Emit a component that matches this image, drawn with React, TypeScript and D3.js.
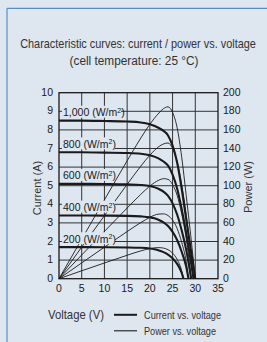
import React, { useLayoutEffect, useRef, useState } from "react";
import * as d3 from "d3";

const titleLines = ["Characteristic curves: current / power vs. voltage", "(cell temperature: 25 °C)"];
const xTicks = [0, 5, 10, 15, 20, 25, 30, 35];
const currentTicks = [0, 1, 2, 3, 4, 5, 6, 7, 8, 9, 10];
const powerTicks = [0, 20, 40, 60, 80, 100, 120, 140, 160, 180, 200];

const irradianceLabels = ["1,000", "800", "600", "400", "200"];

const volt1000 = [0, 5, 10, 15, 18, 20, 22, 23, 24, 25, 26, 27, 28, 29, 30];
const curr1000 = [8.5, 8.5, 8.48, 8.45, 8.4, 8.3, 8.1, 7.95, 7.7, 7.15, 6.25, 4.85, 3.2, 1.6, 0];
const pow1000 = [0, 42.5, 84.8, 126.8, 151.2, 166, 178.2, 182.9, 184.8, 178.8, 162.5, 131, 89.6, 46.4, 0];

const volt800 = [0, 5, 10, 15, 18, 20, 22, 23, 24, 25, 26, 27, 28, 29, 29.6];
const curr800 = [6.8, 6.8, 6.78, 6.76, 6.72, 6.64, 6.46, 6.3, 6.08, 5.6, 4.85, 3.75, 2.45, 0.95, 0];
const pow800 = [0, 34, 67.8, 101.4, 121, 132.8, 142.1, 144.9, 145.9, 140, 126.1, 101.3, 68.6, 27.6, 0];

const volt600 = [0, 5, 10, 15, 18, 20, 22, 23, 24, 25, 26, 27, 28, 29.1];
const curr600 = [5.1, 5.1, 5.09, 5.07, 5.04, 4.98, 4.82, 4.68, 4.45, 4.05, 3.45, 2.6, 1.55, 0];
const pow600 = [0, 25.5, 50.9, 76, 90.7, 99.6, 106, 107.6, 106.8, 101.3, 89.7, 70.2, 43.4, 0];

const volt400 = [0, 5, 10, 15, 18, 20, 21, 22, 23, 24, 25, 26, 27, 28, 28.5];
const curr400 = [3.4, 3.4, 3.39, 3.38, 3.35, 3.3, 3.25, 3.16, 3.03, 2.83, 2.52, 2.08, 1.45, 0.65, 0];
const pow400 = [0, 17, 33.9, 50.7, 60.3, 66, 68.3, 69.5, 69.7, 67.9, 63, 54.1, 39.2, 18.2, 0];

const volt200 = [0, 5, 10, 15, 18, 20, 21, 22, 23, 24, 25, 26, 27, 27.4];
const curr200 = [1.7, 1.7, 1.69, 1.68, 1.66, 1.62, 1.58, 1.52, 1.43, 1.3, 1.1, 0.8, 0.32, 0];
const pow200 = [0, 8.5, 16.9, 25.2, 29.9, 32.4, 33.2, 33.4, 32.9, 31.2, 27.5, 20.8, 8.6, 0];

const series = [
  { label: irradianceLabels[0], v: volt1000, i: curr1000, p: pow1000 },
  { label: irradianceLabels[1], v: volt800, i: curr800, p: pow800 },
  { label: irradianceLabels[2], v: volt600, i: curr600, p: pow600 },
  { label: irradianceLabels[3], v: volt400, i: curr400, p: pow400 },
  { label: irradianceLabels[4], v: volt200, i: curr200, p: pow200 },
];

const BG = "#dee6f0";
const INK = "#1a1a1a";
const tickFont = "'Liberation Sans', Arial, sans-serif";

// Text squeezed horizontally to a target width (condensed look), left x0 or centred cx
function NarrowText(props: { x: number; y: number; width: number; size: number; anchor: "start" | "middle"; text: string }) {
  const ref = useRef<SVGTextElement>(null);
  const [sx, setSx] = useState(0.85);
  useLayoutEffect(() => {
    if (ref.current) {
      const w = ref.current.getComputedTextLength();
      if (w > 0) setSx(props.width / w);
    }
  }, [props.width, props.text]);
  return (
    <text ref={ref} transform={`translate(${props.x},${props.y}) scale(${sx},1)`} textAnchor={props.anchor}
      fontFamily={tickFont} fontSize={props.size} fill="#333">{props.text}</text>
  );
}

export default function App() {
  const W = 267, H = 342;
  const x = d3.scaleLinear().domain([0, 35]).range([59, 218]);
  const yI = d3.scaleLinear().domain([0, 10]).range([278.7, 92.7]);
  const yP = d3.scaleLinear().domain([0, 200]).range([278.7, 92.7]);

  const ivLine = (v: number[], i: number[]) =>
    d3.line<number>().x((_, k) => x(v[k])).y((d) => yI(d)).curve(d3.curveMonotoneX)(i) || "";
  const pvLine = (v: number[], p: number[]) =>
    d3.line<number>().x((_, k) => x(v[k])).y((d) => yP(d)).curve(d3.curveMonotoneX)(p) || "";

  return (
    <svg width={W} height={H} viewBox={`0 0 ${W} ${H}`} style={{ position: "absolute", left: 0, top: 0 }}>
      <rect x={0} y={0} width={W} height={H} fill={BG} />
      <line x1={7} y1={8.3} x2={W} y2={8.3} stroke="#5a8fc6" strokeWidth={1.2} />
      <line x1={7} y1={8.3} x2={7} y2={H} stroke="#5a8fc6" strokeWidth={1.2} />

      <NarrowText x={138} y={48} width={236} size={12.5} anchor="middle" text={titleLines[0]} />
      <NarrowText x={134} y={64.5} width={129} size={12.5} anchor="middle" text={titleLines[1]} />

      {/* grid */}
      {xTicks.slice(1, -1).map((t) => (
        <line key={"gx" + t} x1={x(t)} x2={x(t)} y1={yI(0)} y2={yI(10)} stroke="#333" strokeWidth={1} />
      ))}
      {currentTicks.slice(1, -1).map((t) => (
        <line key={"gy" + t} x1={x(0)} x2={x(35)} y1={yI(t)} y2={yI(t)} stroke="#333" strokeWidth={1} />
      ))}

      {/* power curves */}
      {series.map((s) => (
        <path key={"p" + s.label} d={pvLine(s.v, s.p)} fill="none" stroke={INK} strokeWidth={0.9} />
      ))}
      {/* current curves */}
      {series.map((s) => (
        <path key={"i" + s.label} d={ivLine(s.v, s.i)} fill="none" stroke={INK} strokeWidth={2.1} />
      ))}

      {/* irradiance labels */}
      {series.map((s) => {
        const yy = yI(s.i[0] + 0.45);
        const str = `${s.label} (W/m`;
        const w = s.label.length === 5 ? 59 : 53;
        return (
          <g key={"l" + s.label}>
            <rect x={62} y={yy - 6.5} width={w} height={12} fill={BG} />
            <text x={63} y={yy + 4} fontFamily={tickFont} fontSize={10.5} fill={INK}>
              {str}
              <tspan fontSize={7} dy={-3.5}>2</tspan>
              <tspan dy={3.5}>)</tspan>
            </text>
          </g>
        );
      })}

      <rect x={x(0)} y={yI(10)} width={x(35) - x(0)} height={yI(0) - yI(10)} fill="none" stroke={INK} strokeWidth={1.3} />

      {/* ticks */}
      {currentTicks.map((t) => (
        <text key={"lt" + t} x={53} y={yI(t) + 3} textAnchor="end" fontFamily={tickFont} fontSize={10.5} fill={INK}>{t}</text>
      ))}
      {powerTicks.map((t) => (
        <text key={"rt" + t} x={223} y={yP(t) + 3} textAnchor="start" fontFamily={tickFont} fontSize={10.5} fill={INK}>{t}</text>
      ))}
      {xTicks.map((t) => (
        <text key={"xt" + t} x={x(t)} y={292} textAnchor="middle" fontFamily={tickFont} fontSize={10.5} fill={INK}>{t}</text>
      ))}

      <text transform="translate(41,188) rotate(-90)" textAnchor="middle" fontFamily={tickFont} fontSize={11} fill="#333">Current (A)</text>
      <text transform="translate(252,187) rotate(-90)" textAnchor="middle" fontFamily={tickFont} fontSize={11} fill="#333">Power (W)</text>

      {/* legend */}
      <NarrowText x={48} y={319} width={56} size={12.5} anchor="start" text="Voltage (V)" />
      <line x1={114} x2={137} y1={314.8} y2={314.8} stroke={INK} strokeWidth={2} />
      <line x1={114} x2={137} y1={330.8} y2={330.8} stroke={INK} strokeWidth={1.1} />
      <NarrowText x={144} y={318.5} width={77} size={10} anchor="start" text="Current vs. voltage" />
      <NarrowText x={144} y={334.5} width={72} size={10} anchor="start" text="Power vs. voltage" />
    </svg>
  );
}
